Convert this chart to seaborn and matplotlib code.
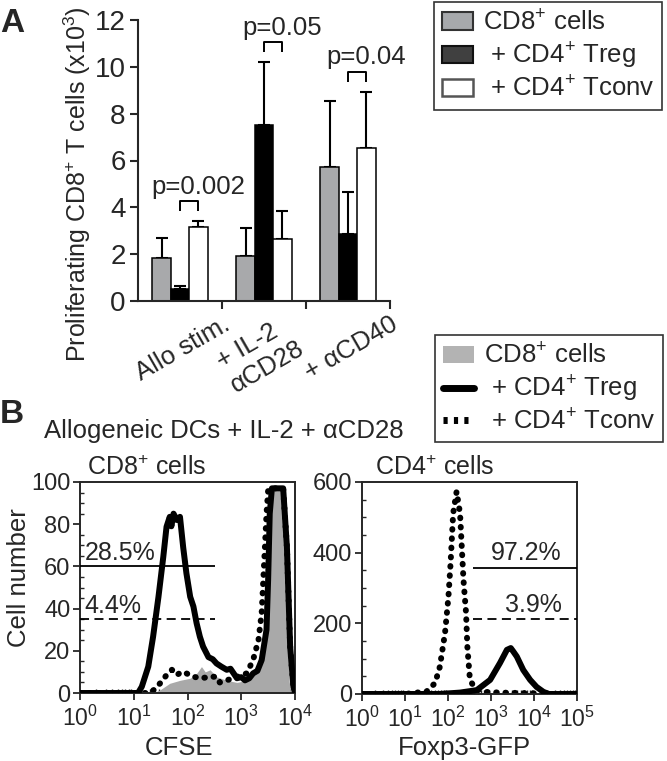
import numpy as np
import pandas as pd
import matplotlib
matplotlib.use("Agg")
import matplotlib.pyplot as plt
import seaborn as sns
from matplotlib.patches import Patch
from matplotlib.lines import Line2D
from matplotlib.ticker import (LogLocator, LogFormatterMathtext, NullFormatter,
                               AutoMinorLocator, MultipleLocator)

# ---------------- Panel A data ----------------
conditions = ["Allo stim.", "+ IL-2\nαCD28", "+ αCD40"]
groups = ["CD8", "Treg", "Tconv"]
cd8_mean = [1.84, 1.93, 5.71]
cd8_err = [0.86, 1.17, 2.84]
treg_mean = [0.50, 7.50, 2.86]
treg_err = [0.12, 2.70, 1.81]
tconv_mean = [3.16, 2.65, 6.52]
tconv_err = [0.24, 1.20, 2.40]
p_labels = ["p=0.002", "p=0.05", "p=0.04"]
legend_a = ["CD8$^{+}$ cells", " + CD4$^{+}$ Treg", " + CD4$^{+}$ Tconv"]

# ---------------- Panel B data (log10 intensity, cell number) ----------------
cfse_treg_log = [0.0, 1.08, 1.15, 1.27, 1.36, 1.46, 1.55, 1.61, 1.67, 1.70, 1.74, 1.80,
                 1.86, 1.92, 1.98, 2.05, 2.11, 2.17, 2.23, 2.29, 2.39, 2.47, 2.54, 2.63,
                 2.73, 2.80, 2.92, 3.00, 3.07, 3.15, 3.22, 3.30, 3.38, 3.47, 3.50, 3.53,
                 3.57, 3.78, 3.85, 3.91, 3.97, 4.0]
cfse_treg_val = [0, 0, 3, 12.5, 26.7, 45.6, 64.6, 78.8, 83.5, 79, 85, 82,
                 83.5, 69, 56.7, 45.6, 41, 33, 26.7, 22, 17, 16, 14, 12.5,
                 11, 11.5, 7, 7.5, 6, 7, 9.3, 10.5, 15.6, 30, 53.6, 85,
                 97, 97, 69, 22, 3, 0]
cfse_tconv_log = [0.0, 1.30, 1.40, 1.49, 1.61, 1.71, 1.80, 1.89, 1.98, 2.11, 2.26, 2.42,
                  2.54, 2.60, 2.73, 2.92, 3.10, 3.22, 3.32, 3.38, 3.41, 3.44, 3.47, 3.50,
                  3.53, 3.78, 3.85, 3.91, 3.97, 4.0]
cfse_tconv_val = [0, 0, 2, 4.6, 8.5, 11, 8.5, 10, 9.3, 7.7, 7, 7.7,
                  7.7, 5, 6, 7.7, 9.3, 15.6, 25, 38, 53.6, 69, 85, 96,
                  97, 97, 69, 22, 3, 0]
cfse_cd8_log = [0.0, 1.36, 1.49, 1.67, 1.86, 2.05, 2.17, 2.26, 2.33, 2.42, 2.54, 2.73,
                2.92, 3.10, 3.26, 3.38, 3.44, 3.50, 3.57, 3.60, 3.78, 3.85, 3.89, 3.92, 4.0]
cfse_cd8_val = [0, 0, 1.5, 4.6, 6, 7, 9.3, 12.5, 10, 11, 7.7, 6,
                5, 6, 9.3, 15.6, 30, 53.6, 93, 97, 97, 53, 6, 0, 0]

foxp3_tconv_log = [0.0, 1.0, 1.13, 1.50, 1.70, 1.81, 1.93, 2.01, 2.06, 2.12, 2.20, 2.28,
                   2.32, 2.36, 2.42, 2.45, 2.51, 2.63, 2.85, 3.2, 3.6, 4.0, 4.3, 5.0]
foxp3_tconv_val = [0, 0, 2, 7, 31, 77, 172, 275, 370, 511, 573, 511,
                   417, 323, 229, 134, 40, 15, 6, 4, 3, 2, 0, 0]
foxp3_treg_log = [0.0, 1.8, 2.28, 2.67, 2.98, 3.21, 3.37, 3.46, 3.52, 3.60, 3.75, 3.91,
                  4.06, 4.22, 4.35, 5.0]
foxp3_treg_val = [0, 0, 4, 11, 40, 88, 125, 130, 120, 106, 68, 40,
                  20, 6, 0, 0]

# gates: (level, log10 start, log10 end, label)
cfse_gates = [(60, 0.0, 2.51, "28.5%"), (35, 0.0, 2.51, "4.4%")]
foxp3_gates = [(358, 2.59, 5.0, "97.2%"), (211, 2.59, 5.0, "3.9%")]
legend_b = ["CD8$^{+}$ cells", " + CD4$^{+}$ Treg", " + CD4$^{+}$ Tconv"]

# ---------------- style ----------------
sns.set_style("ticks")
plt.rcParams["font.family"] = ["Liberation Sans", "DejaVu Sans"]
plt.rcParams["mathtext.fontset"] = "custom"
plt.rcParams["mathtext.rm"] = "Liberation Sans"
plt.rcParams["mathtext.it"] = "Liberation Sans:italic"
plt.rcParams["mathtext.bf"] = "Liberation Sans:bold"

W, H = 667, 761
fig = plt.figure(figsize=(W / 100, H / 100), dpi=100)


def box(l, t, r, b):
    return [l / W, 1 - b / H, (r - l) / W, (b - t) / H]


GRAY = "#a7a9ac"
FILLGRAY = "#a9a9a9"

# ================= Panel A =================
axA = fig.add_axes(box(138, 20, 390, 301))
df = pd.DataFrame({
    "condition": np.repeat(conditions, 3),
    "group": groups * 3,
    "value": [v for trip in zip(cd8_mean, treg_mean, tconv_mean) for v in trip],
})
sns.barplot(data=df, x="condition", y="value", hue="group", order=conditions,
            hue_order=groups, palette={"CD8": GRAY, "Treg": "black", "Tconv": "white"},
            edgecolor="black", linewidth=1.1, width=0.66, errorbar=None,
            legend=False, ax=axA)

for cont, errs in zip(axA.containers, [cd8_err, treg_err, tconv_err]):
    for bar, e in zip(cont, errs):
        xc = bar.get_x() + bar.get_width() / 2
        axA.errorbar([xc], [bar.get_height()], yerr=[[0], [e]], fmt="none",
                     ecolor="black", elinewidth=1.5, capsize=4.5, capthick=1.5,
                     zorder=0.5)

# significance brackets between Treg and Tconv bars
treg_bars = axA.containers[1]
tconv_bars = axA.containers[2]
for i, lab in enumerate(p_labels):
    b1, b2 = treg_bars[i], tconv_bars[i]
    x1 = b1.get_x() + b1.get_width() / 2
    x2 = b2.get_x() + b2.get_width() / 2
    top_val = max(treg_mean[i] + treg_err[i], tconv_mean[i] + tconv_err[i])
    lo = top_val + 0.43
    hi = lo + 0.45
    axA.plot([x1, x1, x2, x2], [lo, hi, hi, lo], color="black", lw=1.4,
             clip_on=False, solid_capstyle="butt")
    axA.text((x1 + x2) / 2 + 0.11, hi + 0.3, lab, ha="center", va="baseline",
             fontsize=18.5, clip_on=False)

axA.set_xlim(-0.5, 2.5)
axA.set_ylim(0, 12)
axA.set_yticks(np.arange(0, 13, 2))
tick_pos = [0.5, 1.5, 2.5]
axA.set_xticks(tick_pos)
axA.set_xticklabels([""] * 3)
# rotated category labels, right-aligned at the group-boundary ticks
label_shift = [0, -17, 0]   # points; the two-line label sits left of its tick
for pos, lab, dx in zip(tick_pos, conditions, label_shift):
    axA.annotate(lab, xy=(pos, 0), xycoords=axA.get_xaxis_transform(),
                 xytext=(dx, -8), textcoords="offset points", rotation=30,
                 ha="right", va="top", rotation_mode="anchor",
                 multialignment="left", fontsize=18.5, annotation_clip=False)
axA.tick_params(axis="y", labelsize=20, length=6, width=1.5, direction="out", pad=3)
axA.tick_params(axis="x", length=6, width=1.5, direction="out", pad=4)
axA.set_xlabel("")
axA.set_ylabel("")
sns.despine(ax=axA)
for s in ["left", "bottom"]:
    axA.spines[s].set_linewidth(1.5)

fig.text(77 / W, 1 - 184 / H, "Proliferating CD8$^{+}$ T cells (x10$^{3}$)",
         rotation=90, ha="center", va="center", fontsize=18)
fig.text(0 / W, 1 - 32 / H, "A", fontsize=24, fontweight="bold", ha="left", va="baseline")

handles_a = [Patch(facecolor=GRAY, edgecolor="#333333", linewidth=1.5),
             Patch(facecolor="#404040", edgecolor="#111111", linewidth=1.5),
             Patch(facecolor="white", edgecolor="#555555", linewidth=1.8)]
legA = fig.legend(handles_a, legend_a, loc="upper left",
                  bbox_to_anchor=(434 / W, 1 - 2 / H), frameon=True, fancybox=False,
                  edgecolor="black", borderaxespad=0, fontsize=18.5, handlelength=1.2,
                  handleheight=0.65, handletextpad=0.4, labelspacing=0.22,
                  borderpad=0.3)
legA.get_frame().set_linewidth(1.2)

# ================= Panel B =================
fig.text(0 / W, 1 - 423 / H, "B", fontsize=24, fontweight="bold", ha="left", va="baseline")
fig.text(224 / W, 1 - 438 / H, "Allogeneic DCs + IL-2 + αCD28", ha="center",
         va="baseline", fontsize=18.5)
fig.text(147 / W, 1 - 475 / H, "CD8$^{+}$ cells", ha="center", va="baseline", fontsize=18)
fig.text(435 / W, 1 - 475 / H, "CD4$^{+}$ cells", ha="center", va="baseline", fontsize=18)
fig.text(19 / W, 1 - 578 / H, "Cell number", rotation=90, ha="center", va="center",
         fontsize=18.5)
fig.text(179 / W, 1 - 755 / H, "CFSE", ha="center", va="baseline", fontsize=18.5)
fig.text(464 / W, 1 - 755 / H, "Foxp3-GFP", ha="center", va="baseline", fontsize=18.5)

dotted = (0, (0.1, 1.45))
LW = 4.3


def style_hist(ax, xmax, ymax, ystep):
    ax.set_xscale("log")
    ax.set_xlim(1, xmax)
    ax.set_ylim(0, ymax)
    ax.yaxis.set_major_locator(MultipleLocator(ystep))
    ax.yaxis.set_minor_locator(AutoMinorLocator(4))
    ax.xaxis.set_major_locator(LogLocator(base=10, numticks=12))
    ax.xaxis.set_major_formatter(LogFormatterMathtext())
    ax.xaxis.set_minor_locator(LogLocator(base=10, subs=np.arange(2, 10), numticks=12))
    ax.xaxis.set_minor_formatter(NullFormatter())
    ax.tick_params(which="major", direction="out", length=5, width=1.3)
    ax.tick_params(axis="y", which="major", labelsize=17, pad=2)
    ax.tick_params(axis="x", which="major", labelsize=16.5, pad=4)
    ax.tick_params(which="minor", direction="in", length=3, width=1.0)
    ax.set_xlabel("")
    ax.set_ylabel("")
    for s in ax.spines.values():
        s.set_linewidth(1.4)
        s.set_visible(True)


# CFSE
axB1 = fig.add_axes(box(80, 482, 295, 693))
x_cd8 = 10 ** np.array(cfse_cd8_log)
axB1.fill_between(x_cd8, cfse_cd8_val, color=FILLGRAY, lw=0, zorder=1)
sns.lineplot(x=10 ** np.array(cfse_tconv_log), y=cfse_tconv_val, ax=axB1, color="black",
             lw=LW, linestyle=dotted, dash_capstyle="round", sort=False,
             estimator=None, zorder=2)
sns.lineplot(x=10 ** np.array(cfse_treg_log), y=cfse_treg_val, ax=axB1, color="black",
             lw=LW, sort=False, estimator=None, zorder=3,
             solid_joinstyle="round")
style_hist(axB1, 1e4, 100, 20)
for lvl, a, b, lab in cfse_gates:
    axB1.hlines(lvl, 10 ** a, 10 ** b, color="black", lw=1.3,
                linestyle="-" if lab == cfse_gates[0][3] else (0, (5, 3)), zorder=4)
    axB1.text(10 ** 0.09, lvl + 3.0, lab, ha="left", va="baseline", fontsize=18)

# Foxp3
axB2 = fig.add_axes(box(362, 482, 577, 694))
sns.lineplot(x=10 ** np.array(foxp3_tconv_log), y=foxp3_tconv_val, ax=axB2, color="black",
             lw=LW, linestyle=dotted, dash_capstyle="round", sort=False,
             estimator=None, zorder=2)
sns.lineplot(x=10 ** np.array(foxp3_treg_log), y=foxp3_treg_val, ax=axB2, color="black",
             lw=LW, sort=False, estimator=None, zorder=3, solid_joinstyle="round")
style_hist(axB2, 1e5, 600, 200)
for lvl, a, b, lab in foxp3_gates:
    axB2.hlines(lvl, 10 ** a, 10 ** b, color="black", lw=1.3,
                linestyle="-" if lab == foxp3_gates[0][3] else (0, (5, 3)), zorder=4)
    axB2.text(10 ** 4.64, lvl + 21, lab, ha="right", va="baseline", fontsize=18)

handles_b = [Patch(facecolor="#b3b3b3", edgecolor="none"),
             Line2D([], [], color="black", lw=5),
             Line2D([], [], color="black", lw=5, linestyle=(0, (0.6, 0.9)))]
legB = fig.legend(handles_b, legend_b, loc="lower left",
                  bbox_to_anchor=(435 / W, 1 - 442 / H), frameon=True, fancybox=False,
                  edgecolor="black", borderaxespad=0, fontsize=18.5, handlelength=1.2,
                  handleheight=0.65, handletextpad=0.4, labelspacing=0.2,
                  borderpad=0.3)
legB.get_frame().set_linewidth(1.2)

fig.savefig("out.png", dpi=100)
